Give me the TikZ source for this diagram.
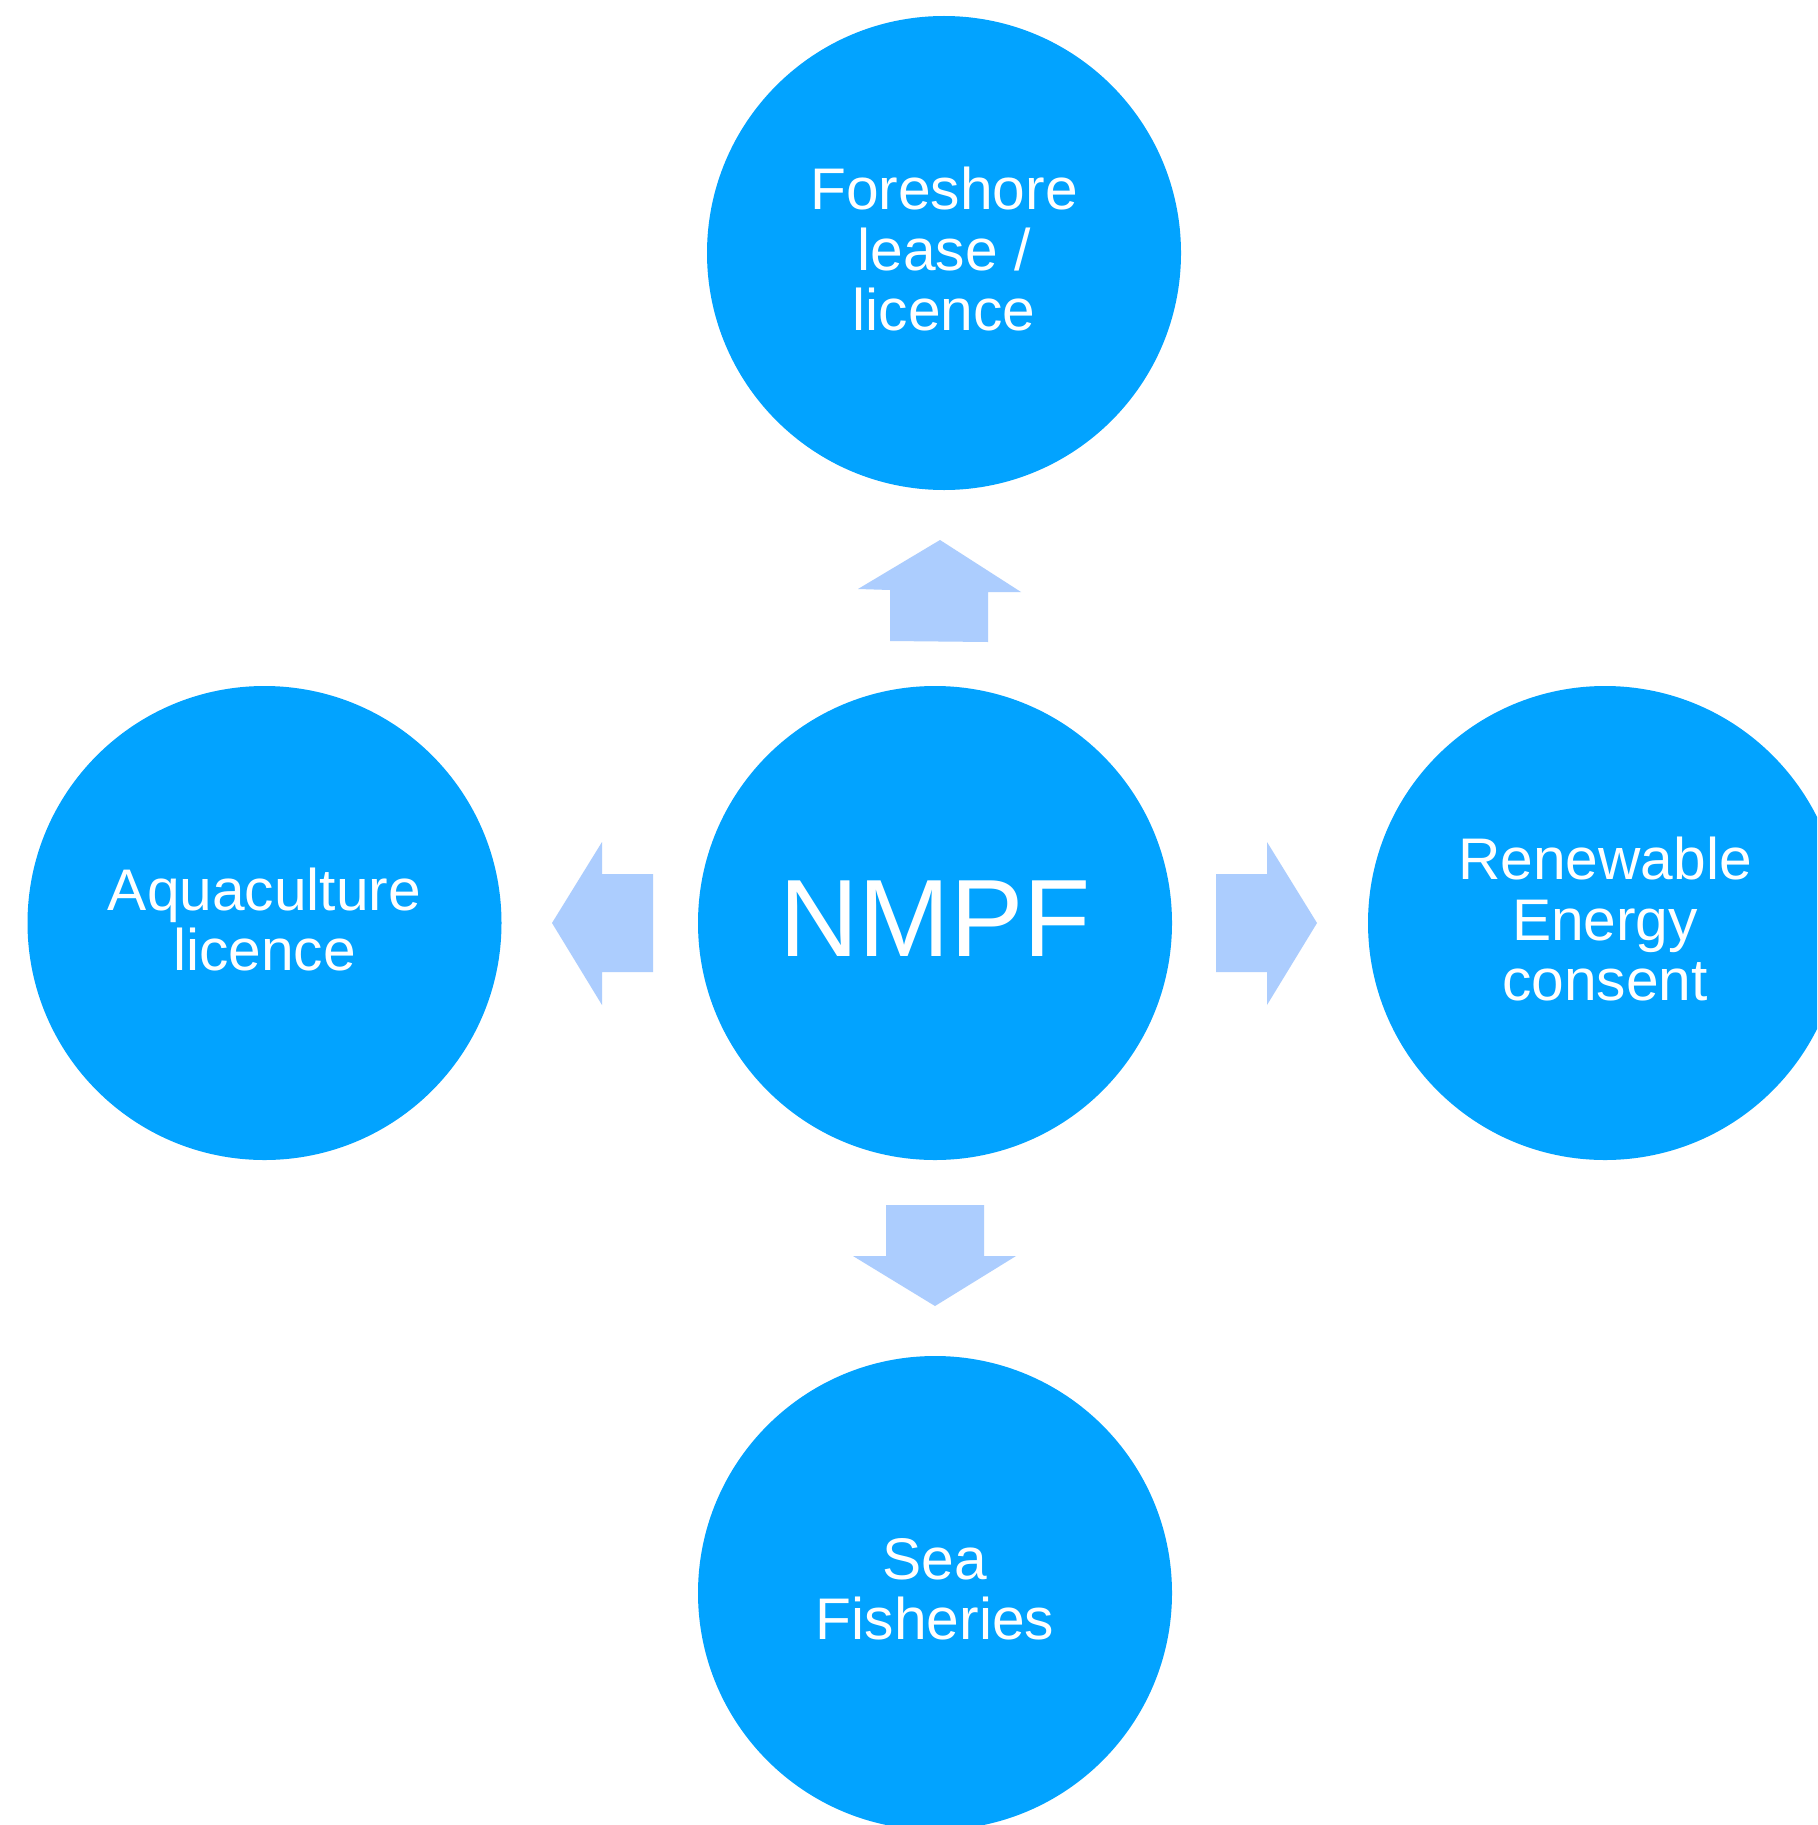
\documentclass[tikz,border=0pt]{standalone}
\usepackage{fontspec}
\setmainfont{Liberation Sans}
\definecolor{bubbleblue}{RGB}{2,163,255}
\definecolor{arrowblue}{RGB}{172,205,254}
\tikzset{
	bubble/.style={circle, fill=bubbleblue, text=white, minimum size=237pt, inner sep=0pt, align=center, font={\fontsize{29.35}{30.25}\selectfont}, execute at end node={\rule[-4pt]{0pt}{0pt}}},
	arrowfill/.style={fill=arrowblue}
}
\begin{document}
\begin{tikzpicture}[x=0.5pt, y=-0.5pt]
		\fill[white] (0, 0) rectangle (1817, 1825);
		\clip (0, 0) rectangle (1817, 1825);

		\node[bubble, font={\fontsize{55}{60}\selectfont}] (nmpf) at (935, 923) {NMPF};
		\node[bubble] (foreshore) at (944, 253) {Foreshore\\lease /\\licence};
		\node[bubble] (aqua) at (264.5, 923) {Aquaculture\\licence};
		\node[bubble] (renew) at (1605, 923) {Renewable\\Energy\\consent};
		\node[bubble] (sea) at (935, 1593) {Sea\\Fisheries};

		% block arrows out of the centre
		\fill[arrowfill] (858, 589) -- (940, 540) -- (1021, 592) -- (988, 592) -- (988, 642) -- (890, 641) -- (890, 590) -- cycle;
		\fill[arrowfill] (886, 1205) -- (984, 1205) -- (984, 1256) -- (1016, 1256) -- (935, 1306) -- (853, 1256) -- (886, 1256) -- cycle;
		\fill[arrowfill] (653, 874) -- (653, 972) -- (602, 972) -- (602, 1005) -- (552, 923) -- (602, 842) -- (602, 874) -- cycle;
		\fill[arrowfill] (1216, 874) -- (1216, 972) -- (1267, 972) -- (1267, 1005) -- (1317, 923) -- (1267, 842) -- (1267, 874) -- cycle;
	\end{tikzpicture}
\end{document}
